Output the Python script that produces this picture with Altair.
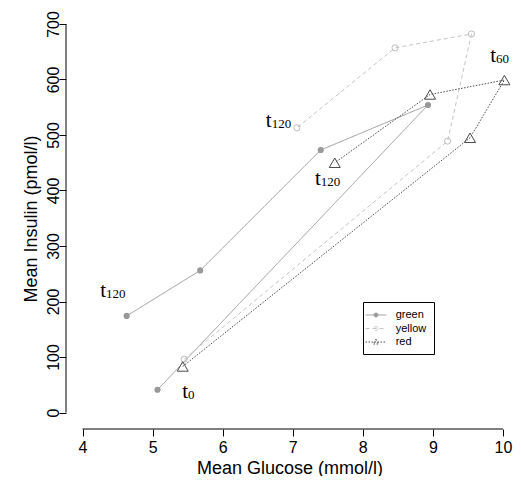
import altair as alt
import pandas as pd

series_names = ["green", "yellow", "red"]
times = [0, 30, 60, 90, 120]

glucose_green = [5.07, 8.93, 7.40, 5.68, 4.63]
insulin_green = [41, 554, 473, 256, 174]
glucose_yellow = [5.45, 9.21, 9.55, 8.46, 7.06]
insulin_yellow = [96, 489, 682, 657, 513]
glucose_red = [5.43, 9.53, 10.02, 8.96, 7.60]
insulin_red = [83, 495, 599, 573, 450]

label_x = [4.336, 5.507, 6.699, 7.40, 9.90]
label_y = [209, 26, 515, 410, 632]
label_sub = ["120", "0", "120", "120", "60"]

x_ticks = [4, 5, 6, 7, 8, 9, 10]
y_ticks = [0, 100, 200, 300, 400, 500, 600, 700]

W, H = 447, 421

rows = []
for name, gx, gy in zip(series_names,
                        [glucose_green, glucose_yellow, glucose_red],
                        [insulin_green, insulin_yellow, insulin_red]):
    for t, a, b in zip(times, gx, gy):
        rows.append({"series": name, "time": t, "glucose": a, "insulin": b})
df = pd.DataFrame(rows)
lab = pd.DataFrame({"x": label_x, "y": label_y, "sub": label_sub})

xscale = alt.Scale(domain=[3.7645, 10.143], nice=False, zero=False)
yscale = alt.Scale(domain=[-29.7, 728.8], nice=False, zero=False)

line_colors = ["#9a9a9a", "#c4c4c4", "#4a4a4a"]
marker_colors = ["#999999", "#bdbdbd", "#4a4a4a"]
color_scale = alt.Scale(domain=series_names, range=line_colors)
dash_scale = alt.Scale(domain=series_names, range=[[1, 0], [4, 3], [1.5, 1.5]])
legend_shapes = [
    "M-1.9,0H1.9M0.36,0A0.36,0.36 0 1,1 -0.36,0A0.36,0.36 0 1,1 0.36,0Z",
    "M-1.9,0H1.9M0.36,0A0.36,0.36 0 1,1 -0.36,0A0.36,0.36 0 1,1 0.36,0Z",
    "M-1.9,0H1.9M0,-0.5L0.48,0.36L-0.48,0.36Z",
]
shape_scale = alt.Scale(domain=series_names, range=legend_shapes)
fill_scale = alt.Scale(domain=series_names, range=["#999999", "white", "white"])

leg = dict(orient="none", legendX=297, legendY=294, title=None,
           strokeColor="black", padding=7,
           symbolSize=121, symbolStrokeWidth=1, labelFont="Liberation Sans",
           labelFontSize=11, labelColor="black", rowPadding=2.5,
           fillColor="white", labelOffset=13.7)

xaxis = alt.Axis(values=x_ticks, title="Mean Glucose (mmol/l)", domain=False,
                 grid=False, tickSize=7, tickColor="black", labelFontSize=16,
                 labelFont="Liberation Sans", labelColor="black",
                 labelPadding=3, titleFont="Liberation Sans", titleFontSize=18,
                 titleFontWeight="normal", titleColor="black", titlePadding=4,
                 labelFlush=False, format="d")
yaxis = alt.Axis(values=y_ticks, title="Mean Insulin (pmol/l)", domain=False,
                 grid=False, tickSize=7, tickColor="black", labelFontSize=16,
                 labelFont="Liberation Sans", labelColor="black",
                 labelAngle=270, labelAlign="center", labelBaseline="alphabetic",
                 labelPadding=1, titleFont="Liberation Sans", titleFontSize=18,
                 titleFontWeight="normal", titleColor="black", titlePadding=5,
                 labelFlush=False, format="d")

X = alt.X("glucose:Q", scale=xscale, axis=xaxis)
Y = alt.Y("insulin:Q", scale=yscale, axis=yaxis)

lines = alt.Chart(df).mark_line(strokeWidth=1, clip=False).encode(
    x=X, y=Y,
    color=alt.Color("series:N", scale=color_scale, legend=alt.Legend(**leg)),
    strokeDash=alt.StrokeDash("series:N", scale=dash_scale, legend=alt.Legend(**leg)),
    order="time:Q",
)

# legend-only layer (no rows) giving the legend its line+marker symbols
legend_layer = alt.Chart(pd.DataFrame({"series": pd.Series([], dtype=str),
                                       "glucose": pd.Series([], dtype=float),
                                       "insulin": pd.Series([], dtype=float)})).mark_point(
    strokeWidth=1, opacity=1).encode(
    x=X, y=Y,
    color=alt.Color("series:N", scale=color_scale, legend=alt.Legend(**leg)),
    strokeDash=alt.StrokeDash("series:N", scale=dash_scale, legend=alt.Legend(**leg)),
    shape=alt.Shape("series:N", scale=shape_scale, legend=alt.Legend(**leg)),
    fill=alt.Fill("series:N", scale=fill_scale, legend=alt.Legend(**leg)),
)

pt_green = alt.Chart(df).transform_filter(alt.datum.series == "green").mark_point(
    shape="circle", filled=True, color=marker_colors[0], size=38, opacity=1, clip=False).encode(x=X, y=Y)
pt_yellow = alt.Chart(df).transform_filter(alt.datum.series == "yellow").mark_point(
    shape="circle", filled=False, stroke=marker_colors[1], fill="white", fillOpacity=0,
    strokeWidth=1, size=38, opacity=1, clip=False).encode(x=X, y=Y)
pt_red = alt.Chart(df).transform_filter(alt.datum.series == "red").mark_point(
    shape="triangle-up", filled=False, stroke=marker_colors[2], strokeWidth=1,
    size=120, opacity=1, clip=False).encode(x=X, y=Y)

t_main = alt.Chart(lab).mark_text(text="t", align="right", baseline="alphabetic",
                                  font="Liberation Serif", fontSize=21, color="black").encode(
    x=alt.X("x:Q", scale=xscale, axis=xaxis), y=alt.Y("y:Q", scale=yscale, axis=yaxis))
t_sub = alt.Chart(lab).mark_text(align="left", baseline="alphabetic", dy=1,
                                 font="Liberation Serif", fontSize=13, color="black").encode(
    x=alt.X("x:Q", scale=xscale, axis=xaxis), y=alt.Y("y:Q", scale=yscale, axis=yaxis),
    text="sub:N")

xline = alt.Chart(pd.DataFrame({"v": x_ticks})).mark_rule(color="black", strokeWidth=1).encode(
    x=alt.X("min(v):Q", scale=xscale, axis=xaxis), x2="max(v):Q", y=alt.value(H))
yline = alt.Chart(pd.DataFrame({"v": y_ticks})).mark_rule(color="black", strokeWidth=1).encode(
    y=alt.Y("min(v):Q", scale=yscale, axis=yaxis), y2="max(v):Q", x=alt.value(0))

chart = alt.layer(lines, legend_layer, xline, yline, pt_green, pt_yellow, pt_red,
                  t_main, t_sub).properties(
    width=W, height=H,
    padding={"left": 58, "top": 0, "right": 0, "bottom": 47},
    autosize=alt.AutoSizeParams(type="none"),
    background="white",
).configure_view(stroke=None)

chart.save("out.html", embed_options={"renderer": "svg", "actions": False})
